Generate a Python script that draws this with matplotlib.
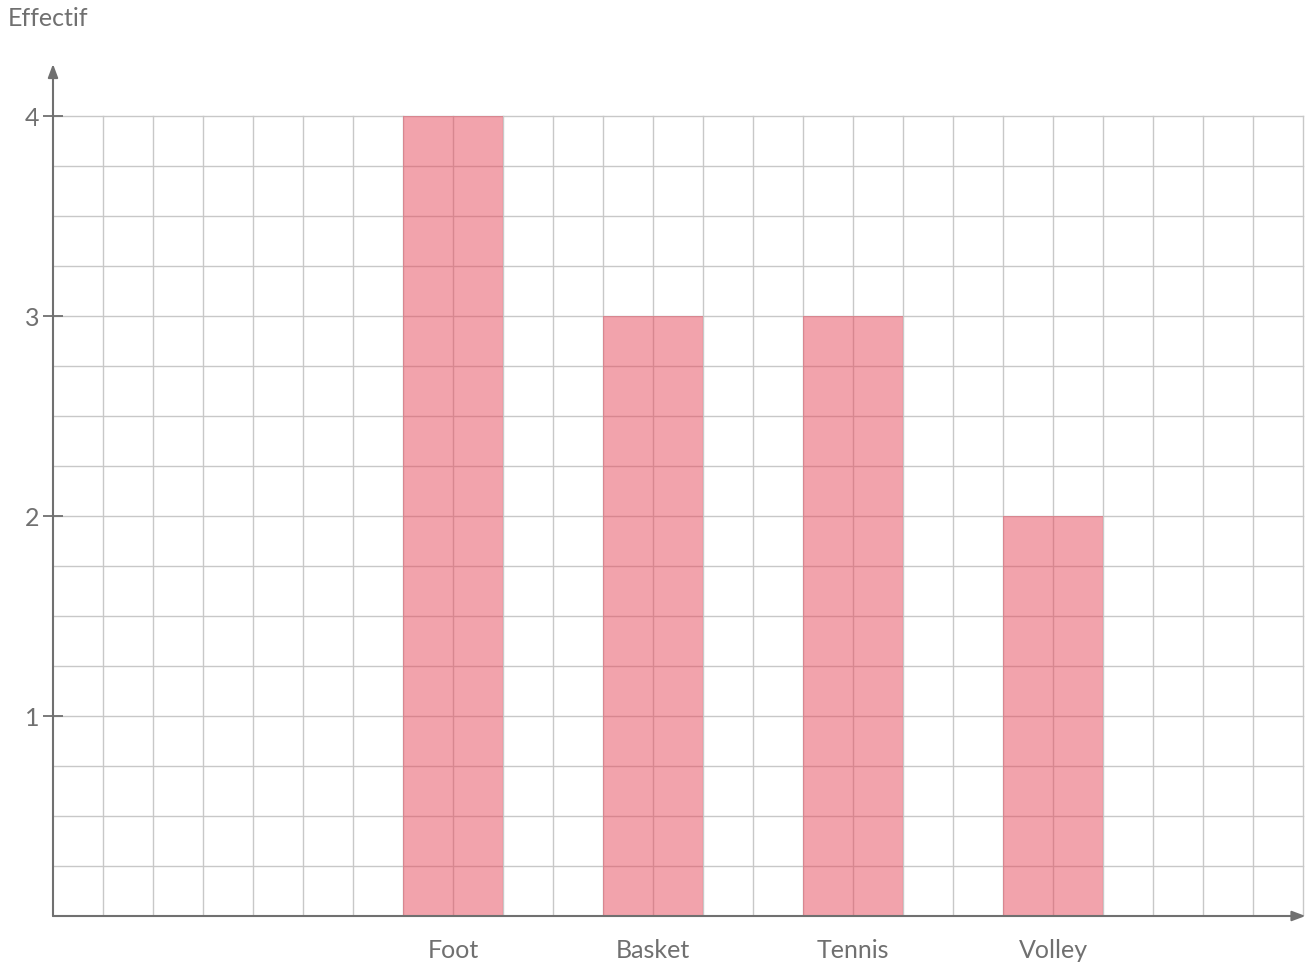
import numpy as np
import matplotlib.pyplot as plt

sports = ['Foot', 'Basket', 'Tennis', 'Volley']
effectifs = [4, 3, 3, 2]
positions = [8, 12, 16, 20]

grey = '#707070'
plt.rcParams['font.family'] = ['Lato', 'DejaVu Sans']

fig = plt.figure(figsize=(13.15, 9.7), dpi=100)
W, H = 1315, 970
x0, y0 = 53, 917
ppu_x, ppu_y = 50, 200
xmax, ymax = 25.2, 4.3
ax = fig.add_axes([x0 / W, (H - y0) / H, xmax * ppu_x / W, ymax * ppu_y / H])
ax.set_xlim(0, xmax)
ax.set_ylim(0, ymax)

# grille
for gx in np.arange(1, 26):
    ax.plot([gx, gx], [0, 4], color='#c8c8c8', lw=1, zorder=1)
for gy in np.arange(0.25, 4.01, 0.25):
    ax.plot([0, 25], [gy, gy], color='#c8c8c8', lw=1, zorder=1)

ax.bar(positions, effectifs, width=2, color='#e6485a', alpha=0.5, zorder=2)

for s in ax.spines.values():
    s.set_visible(False)

# axes avec flèches
fleche = dict(arrowstyle='-|>,head_length=0.8,head_width=0.3',
              color=grey, lw=1.5, shrinkA=0, shrinkB=0)
ax.annotate('', xy=(25.05, 0), xytext=(0, 0), arrowprops=fleche,
            annotation_clip=False, zorder=3)
ax.annotate('', xy=(0, 4.26), xytext=(0, 0), arrowprops=fleche,
            annotation_clip=False, zorder=3)

ax.set_yticks([1, 2, 3, 4])
ax.set_yticklabels(['1', '2', '3', '4'], fontsize=18, color=grey)
ax.tick_params(axis='y', direction='inout', length=14, width=1.3, color=grey, pad=3)
ax.set_xticks(positions)
ax.set_xticklabels(sports, fontsize=18, color=grey)
ax.tick_params(axis='x', length=0, pad=16)

fig.text(8 / W, 1 - 18 / H, 'Effectif', fontsize=18, color=grey,
         ha='left', va='center')

fig.savefig('out.png', dpi=100)
